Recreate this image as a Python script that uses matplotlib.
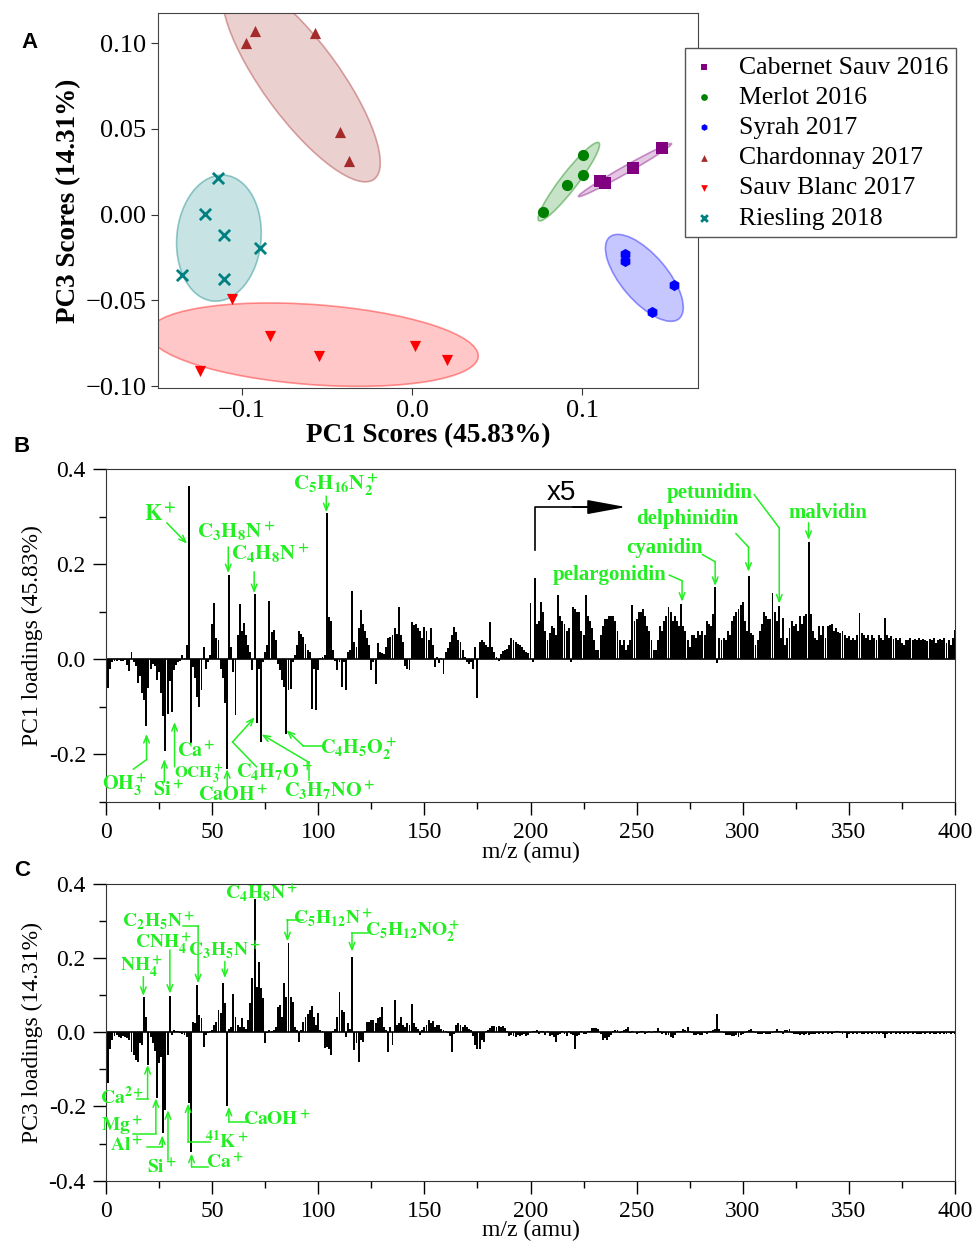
import numpy as np
import matplotlib
matplotlib.use("Agg")
import matplotlib.pyplot as plt
from matplotlib.patches import Ellipse
from matplotlib.colors import to_rgba
from matplotlib.ticker import FuncFormatter, MultipleLocator

plt.rcParams['font.family'] = ['Liberation Serif', 'DejaVu Serif']
plt.rcParams['mathtext.fontset'] = 'stix'

GREEN = '#22ee22'

# ---------------- panel A: PCA scores ----------------
wines = ["Cabernet Sauv 2016", "Merlot 2016", "Syrah 2017",
         "Chardonnay 2017", "Sauv Blanc 2017", "Riesling 2018"]
wine_colors = ['purple', 'green', 'blue', 'brown', 'red', 'teal']
wine_markers = ['s', 'o', 'h', '^', 'v', 'x']

pc1_scores = [
    [0.1108, 0.1137, 0.1297, 0.1468],
    [0.0771, 0.0911, 0.1003, 0.1003],
    [0.1255, 0.1255, 0.1542, 0.1413],
    [-0.0921, -0.0974, -0.0571, -0.0421, -0.0368],
    [-0.1061, -0.0837, -0.0547, 0.0018, 0.0205, -0.1250],
    [-0.1139, -0.1218, -0.1103, -0.0897, -0.1355, -0.1103],
]
pc3_scores = [
    [0.0196, 0.0184, 0.0271, 0.0388],
    [0.0016, 0.0171, 0.0233, 0.0349],
    [-0.0227, -0.0269, -0.0411, -0.0566],
    [0.1068, 0.0998, 0.1056, 0.0481, 0.0312],
    [-0.0492, -0.0707, -0.0824, -0.0766, -0.0847, -0.0909],
    [0.0213, 0.0004, -0.0118, -0.0194, -0.0349, -0.0376],
]

# ---------------- panel B: PC1 loadings (m/z 1..400, >202 shown x5) ----------------
pc1_loadings = [
    -0.06, -0.02, -0.005, -0.003, -0.003, -0.002, -0.003, -0.004, -0.002, -0.012,
    -0.025, 0.015, -0.005, -0.015, -0.05, -0.035, -0.07, -0.085, -0.14, -0.06,
    -0.02, -0.01, -0.015, -0.044, -0.027, -0.07, -0.12, -0.192, -0.115, -0.045,
    -0.111, -0.023, -0.013, -0.006, -0.003, 0.008, 0.003, 0.03, 0.365, -0.177,
    -0.016, -0.04, -0.08, -0.1, -0.065, 0.026, -0.02, -0.006, 0.01, 0.075,
    0.118, 0.044, 0.04, -0.02, -0.04, -0.092, -0.231, 0.177, 0.026, -0.027,
    -0.118, 0.05, 0.117, 0.06, 0.077, 0.05, 0.03, 0.015, -0.023, 0.137,
    -0.134, -0.02, -0.174, -0.006, 0.015, 0.03, 0.123, 0.058, 0.061, 0.04,
    -0.01, -0.023, -0.044, -0.058, -0.157, -0.065, -0.062, -0.005, 0.01, 0.03,
    0.06, 0.054, 0.047, 0.033, 0.019, 0.015, -0.104, -0.02, -0.107, -0.023,
    0.003, 0.005, 0.01, 0.308, 0.089, 0.08, 0.02, -0.003, -0.023, -0.005,
    -0.058, -0.005, -0.065, 0.015, 0.02, 0.144, 0.037, 0.026, 0.065, 0.103,
    0.075, 0.06, 0.045, 0.03, -0.023, -0.005, -0.051, 0.035, 0.015, 0.013,
    0.012, 0.026, 0.044, 0.047, 0.05, 0.065, 0.054, 0.11, 0.05, 0.036,
    -0.015, -0.02, -0.023, 0.079, 0.072, 0.075, 0.065, 0.06, 0.045, 0.067,
    0.06, 0.04, 0.065, 0.03, -0.016, 0.005, -0.008, 0.003, -0.032, 0.015,
    0.023, 0.037, 0.05, 0.068, 0.058, 0.04, 0.036, 0.02, 0.005, -0.006,
    -0.01, -0.006, -0.02, 0.026, -0.081, 0.037, 0.04, 0.037, 0.03, 0.026,
    0.079, 0.026, 0.015, 0.005, -0.003, 0.012, 0.018, 0.02, 0.022, 0.03,
    0.045, 0.04, 0.036, 0.033, 0.03, 0.025, 0.02, 0.015, 0.013, 0.118,
    -0.005, 0.17, 0.075, 0.08, 0.12, 0.1, 0.06, 0.04, 0.055, 0.07,
    0.065, 0.05, 0.135, 0.09, 0.08, 0.075, 0.06, 0.065, -0.005, 0.11,
    0.105, 0.1, 0.1, 0.06, 0.05, 0.135, 0.09, 0.08, 0.065, 0.04,
    0.02, 0.02, 0.05, 0.07, 0.085, 0.085, 0.09, 0.09, 0.09, 0.08,
    0.06, 0.04, 0.03, 0.04, 0.02, 0.03, 0.04, 0.115, 0.08, 0.085,
    0.1, 0.1, 0.105, 0.09, 0.07, 0.06, 0.04, 0.02, 0.02, 0.04,
    0.07, 0.06, 0.08, 0.09, 0.11, 0.1, 0.08, 0.09, 0.08, 0.07,
    0.116, 0.07, 0.06, 0.04, 0.025, 0.05, 0.05, 0.045, 0.06, 0.05,
    0.06, 0.05, 0.08, 0.075, 0.07, 0.095, 0.151, -0.008, 0.044, 0.04,
    0.045, 0.04, 0.06, 0.05, 0.08, 0.09, 0.1, 0.105, 0.115, 0.12,
    0.08, 0.06, 0.175, 0.055, 0.05, 0.03, 0.04, 0.06, 0.075, 0.1,
    0.09, 0.085, 0.085, 0.139, 0.1, 0.08, 0.112, 0.045, 0.086, 0.03,
    0.045, 0.065, 0.08, 0.07, 0.075, 0.06, 0.09, 0.075, 0.09, 0.095,
    0.246, 0.095, 0.06, 0.045, 0.04, 0.07, 0.05, 0.07, 0.045, 0.07,
    0.072, 0.075, 0.06, 0.065, 0.058, 0.055, 0.06, 0.05, 0.045, 0.048,
    0.04, 0.045, 0.04, 0.05, 0.097, 0.055, 0.05, 0.045, 0.05, 0.04,
    0.05, 0.045, 0.04, 0.05, 0.045, 0.04, 0.086, 0.05, 0.045, 0.048,
    0.042, 0.045, 0.04, 0.045, 0.035, 0.03, 0.04, 0.04, 0.045, 0.04,
    0.042, 0.04, 0.045, 0.04, 0.042, 0.04, 0.038, 0.042, 0.04, 0.045,
    0.035, 0.04, 0.042, 0.04, 0.045, 0.035, 0.04, 0.03, 0.045, 0.061,
]

# ---------------- panel C: PC3 loadings (m/z 1..400) ----------------
pc3_loadings = [
    -0.137, -0.045, -0.02, -0.01, -0.008, -0.012, -0.016, -0.01, -0.012, -0.015,
    -0.02, -0.052, -0.061, -0.075, -0.079, -0.03, -0.034, 0.094, 0.042, -0.088,
    -0.012, -0.03, -0.05, -0.178, -0.084, -0.066, -0.272, -0.21, -0.06, 0.098,
    -0.007, 0.006, 0.004, 0.003, -0.003, -0.005, -0.008, -0.012, -0.191, -0.324,
    0.029, 0.024, 0.128, 0.047, 0.038, -0.039, -0.007, -0.003, 0.003, 0.006,
    0.02, 0.029, 0.06, 0.051, 0.132, 0.078, -0.2, 0.01, 0.015, 0.102,
    0.042, 0.02, 0.015, 0.038, 0.015, 0.008, 0.033, 0.078, 0.146, 0.359,
    0.123, 0.19, 0.119, 0.092, -0.03, -0.003, 0.005, 0.004, 0.006, 0.015,
    0.069, 0.074, 0.042, 0.132, 0.096, 0.24, 0.096, 0.083, 0.015, 0.006,
    -0.027, 0.005, 0.029, 0.042, 0.05, 0.06, 0.071, 0.042, 0.02, 0.051,
    0.006, 0.003, -0.043, -0.039, -0.046, -0.061, 0.004, 0.01, 0.042, 0.108,
    0.06, 0.056, -0.012, 0.024, 0.01, 0.202, -0.048, -0.03, -0.079, -0.021,
    -0.025, 0.003, 0.029, 0.029, 0.033, 0.033, 0.024, 0.038, 0.042, 0.067,
    0.015, 0.006, -0.052, 0.015, -0.034, 0.087, 0.02, 0.024, 0.042, 0.02,
    0.015, 0.024, 0.02, 0.076, 0.024, 0.015, 0.01, -0.007, 0.006, 0.015,
    0.02, 0.033, 0.024, 0.031, 0.015, 0.02, 0.02, 0.01, 0.006, 0.003,
    -0.003, -0.01, -0.052, -0.004, 0.02, 0.025, 0.02, 0.015, 0.02, 0.015,
    0.01, 0.005, -0.01, -0.034, -0.045, -0.045, -0.02, -0.025, 0.003, 0.006,
    0.011, 0.016, 0.016, 0.013, 0.016, 0.014, 0.016, 0.012, 0.003, -0.01,
    -0.008, -0.01, -0.012, -0.006, -0.01, -0.008, -0.004, -0.01, -0.006, -0.003,
    0.004, 0.003, 0.005, -0.004, 0.004, 0.003, -0.006, 0.004, -0.01, -0.008,
    -0.012, -0.025, -0.008, -0.004, 0.003, -0.005, -0.01, 0.003, -0.004, -0.006,
    -0.046, -0.01, -0.008, 0.004, -0.005, -0.004, 0.003, 0.004, 0.012, 0.012,
    0.012, 0.01, -0.004, -0.02, -0.016, -0.02, -0.012, -0.008, 0.004, 0.006,
    0.005, -0.003, 0.004, 0.006, 0.01, 0.015, -0.003, 0.003, 0.002, -0.004,
    -0.003, 0.003, 0.004, -0.004, -0.003, 0.003, -0.003, 0.004, 0.003, 0.012,
    0.003, -0.004, -0.003, -0.006, -0.008, -0.012, -0.015, -0.006, 0.003, 0.004,
    0.004, 0.008, 0.006, 0.015, 0.004, -0.003, -0.006, -0.008, -0.004, -0.008,
    -0.006, -0.003, -0.004, 0.003, 0.004, 0.005, 0.01, 0.048, 0.01, 0.004,
    -0.003, -0.006, -0.008, -0.006, -0.01, -0.01, -0.008, -0.012, -0.006, -0.004,
    -0.003, 0.004, 0.005, 0.008, 0.004, -0.003, -0.004, -0.005, -0.004, -0.003,
    -0.004, -0.005, -0.004, -0.003, 0.004, 0.01, 0.004, 0.003, -0.004, 0.005,
    0.006, 0.01, -0.003, -0.004, -0.005, -0.004, -0.006, -0.005, -0.006, -0.005,
    -0.006, -0.004, -0.005, -0.004, -0.003, -0.004, -0.003, -0.004, -0.003, -0.004,
    -0.003, -0.004, -0.003, 0.003, 0.004, -0.003, -0.004, -0.003, -0.015, -0.004,
    -0.003, -0.004, -0.003, -0.004, -0.003, -0.004, -0.005, -0.003, -0.004, -0.003,
    -0.004, -0.003, -0.005, -0.004, -0.003, -0.004, -0.015, -0.005, -0.003, -0.004,
    -0.003, -0.004, -0.003, -0.004, -0.003, -0.004, -0.003, -0.004, -0.003, -0.004,
    -0.003, -0.004, -0.005, -0.004, -0.003, -0.004, -0.003, -0.004, -0.003, -0.005,
    -0.004, -0.003, -0.004, -0.003, -0.004, -0.005, -0.003, -0.004, -0.003, -0.004,
]
mz = np.arange(1, 401)

# labels: (text, text position, callout path, size)
labels_b = [
    (r'$\mathbf{K^+}$', (25.4, 0.304), [(28.6, 0.287), (38.2, 0.243)], 16),
    (r'$\mathbf{C_3H_8N^+}$', (61.5, 0.269), [(57.6, 0.236), (57.6, 0.181)], 15),
    (r'$\mathbf{C_4H_8N^+}$', (77.2, 0.223), [(69.8, 0.184), (69.8, 0.139)], 15),
    (r'$\mathbf{C_5H_{16}N_2^+}$', (108.5, 0.367), [(103.8, 0.343), (103.8, 0.309)], 15),
    (r'$\mathbf{OH_3^+}$', (8.9, -0.263), [(12.9, -0.231), (19.1, -0.211), (19.1, -0.157)], 14.5),
    (r'$\mathbf{Si^+}$', (29.6, -0.277), [(27.5, -0.258), (27.5, -0.21)], 14.5),
    (r'$\mathbf{OCH_3^+}$', (44.0, -0.240), [(32.3, -0.226), (32.3, -0.132)], 12),
    (r'$\mathbf{Ca^+}$', (42.6, -0.194), [], 14.5),
    (r'$\mathbf{CaOH^+}$', (59.9, -0.286), [(57.1, -0.273), (57.1, -0.231)], 14.5),
    (r'$\mathbf{C_4H_7O^+}$', (79.2, -0.236), [(70.9, -0.226), (59.6, -0.174), (70.1, -0.122)], 14.5),
    (r'$\mathbf{C_3H_7NO^+}$', (105.4, -0.275), [(95.7, -0.254), (95.7, -0.217), (73.3, -0.158)], 14.5),
    (r'$\mathbf{C_4H_5O_2^+}$', (118.7, -0.189), [(101.9, -0.182), (92.9, -0.182), (85.0, -0.149)], 14.5),
    ('pelargonidin', (237.2, 0.177), [(265.4, 0.177), (271.4, 0.165), (271.4, 0.121)], 15),
    ('cyanidin', (263.0, 0.234), [(281.0, 0.22), (287.0, 0.205), (287.0, 0.154)], 15),
    ('delphinidin', (274.0, 0.294), [(296.8, 0.264), (302.7, 0.236), (302.7, 0.184)], 15),
    ('petunidin', (284.2, 0.35), [(305.4, 0.346), (317.2, 0.276), (317.2, 0.117)], 15),
    ('malvidin', (340.0, 0.308), [(331.0, 0.287), (331.0, 0.251)], 15),
]
labels_c = [
    (r'$\mathbf{NH_4^+}$', (16.8, 0.177), [(17.6, 0.150), (17.6, 0.098)], 14),
    (r'$\mathbf{CNH_4^+}$', (27.0, 0.239), [(30.1, 0.222), (30.1, 0.104)], 14),
    (r'$\mathbf{C_2H_5N^+}$', (24.6, 0.299), [(36.4, 0.287), (43.4, 0.287), (43.4, 0.132)], 14),
    (r'$\mathbf{C_3H_5N^+}$', (56.0, 0.222), [(56.0, 0.191), (56.0, 0.146)], 14),
    (r'$\mathbf{C_4H_8N^+}$', (73.3, 0.376), [], 14),
    (r'$\mathbf{C_5H_{12}N^+}$', (107.0, 0.308), [(92.8, 0.303), (85.5, 0.303), (85.5, 0.245)], 14),
    (r'$\mathbf{C_5H_{12}NO_2^+}$', (144.6, 0.272), [(123.4, 0.269), (115.9, 0.269), (115.9, 0.218)], 14),
    (r'$\mathbf{Ca^{2+}}$', (7.6, -0.174), [(14.4, -0.181), (19.6, -0.181), (19.6, -0.088)], 14),
    (r'$\mathbf{Mg^+}$', (7.6, -0.255), [(12.8, -0.273), (23.5, -0.273), (23.5, -0.178)], 14),
    (r'$\mathbf{Al^+}$', (9.7, -0.309), [(19.2, -0.309), (26.5, -0.309), (26.5, -0.278)], 14),
    (r'$\mathbf{Si^+}$', (26.2, -0.368), [(29.2, -0.345), (29.2, -0.21)], 14),
    (r'$\mathbf{^{41}K^+}$', (56.8, -0.293), [(48.9, -0.296), (38.7, -0.296), (38.7, -0.192)], 14),
    (r'$\mathbf{Ca^+}$', (56.0, -0.354), [(48.1, -0.363), (40.3, -0.363), (40.3, -0.327)], 14),
    (r'$\mathbf{CaOH^+}$', (80.3, -0.237), [(66.2, -0.242), (57.9, -0.242), (57.9, -0.201)], 14),
]


def conf_ellipse(ax, x, y, color, n_std=1.65):
    cov = np.cov(x, y)
    vals, vecs = np.linalg.eigh(cov)
    order = vals.argsort()[::-1]
    vals, vecs = vals[order], vecs[:, order]
    angle = np.degrees(np.arctan2(vecs[1, 0], vecs[0, 0]))
    w, h = 2 * n_std * np.sqrt(vals)
    ax.add_patch(Ellipse((np.mean(x), np.mean(y)), w, h, angle=angle,
                         facecolor=to_rgba(color, 0.22), edgecolor=to_rgba(color, 0.4),
                         lw=1.2, zorder=1))


def callout(ax, text, pos, pts, size):
    ax.text(pos[0], pos[1], text, color=GREEN, fontsize=size, fontweight='bold',
            ha='center', va='center', zorder=5)
    if len(pts) > 2:
        xs, ys = zip(*pts[:-1])
        ax.plot(xs, ys, color=GREEN, lw=1.1, zorder=5)
    if len(pts) >= 2:
        ax.annotate('', xy=pts[-1], xytext=pts[-2],
                    arrowprops=dict(arrowstyle='->,head_length=0.5,head_width=0.2',
                                    color=GREEN, lw=1.1, shrinkA=0, shrinkB=0), zorder=5)


def style_loadings(ax, ylim, ylabel):
    ax.set_xlim(0, 400)
    ax.set_ylim(*ylim)
    ax.xaxis.set_major_locator(MultipleLocator(50))
    ax.xaxis.set_minor_locator(MultipleLocator(25))
    ax.yaxis.set_major_locator(MultipleLocator(0.2))
    ax.yaxis.set_minor_locator(MultipleLocator(0.1))
    ax.yaxis.set_major_formatter(FuncFormatter(lambda v, p: "%.1f" % (round(v, 2) + 0.0)))
    ax.tick_params(which='both', direction='out', top=False, right=False, labelsize=17, pad=5)
    ax.tick_params(which='major', length=9.5, width=1)
    ax.tick_params(which='minor', length=5, width=1)
    for s in ax.spines.values():
        s.set_color('#333333')
    ax.axhline(0, color='k', lw=1.2, zorder=2)
    ax.set_xlabel('m/z (amu)', fontsize=17, labelpad=-1)
    ax.set_ylabel(ylabel, fontsize=17, labelpad=4)


fig = plt.figure(figsize=(9.76, 12.48), dpi=100)

# panel A
axA = fig.add_axes([0.1619, 0.6891, 0.5533, 0.3005])
for i, name in enumerate(wines):
    conf_ellipse(axA, pc1_scores[i], pc3_scores[i], wine_colors[i])
    lw = 2 if wine_markers[i] == 'x' else 0
    axA.scatter(pc1_scores[i], pc3_scores[i], c=wine_colors[i], marker=wine_markers[i],
                s=65, linewidths=lw, label=name, zorder=3)
axA.set_xlim(-0.1494, 0.1682)
axA.set_ylim(-0.101, 0.1175)
axA.set_xticks([-0.1, 0.0, 0.1])
axA.set_yticks([-0.10, -0.05, 0.0, 0.05, 0.10])
axA.xaxis.set_major_formatter(FuncFormatter(lambda v, p: ("%.1f" % (round(v, 2) + 0.0)).replace('-', '\u2212')))
axA.yaxis.set_major_formatter(FuncFormatter(lambda v, p: ("%.2f" % (round(v, 3) + 0.0)).replace('-', '\u2212')))
axA.tick_params(labelsize=19, length=5, color='#333333')
for s in axA.spines.values():
    s.set_color('#444444')
axA.set_xlabel('PC1 Scores (45.83%)', fontsize=19.5, fontweight='bold', labelpad=1)
axA.set_ylabel('PC3 Scores (14.31%)', fontsize=19.5, fontweight='bold', labelpad=3)
axA.legend(loc='upper left', bbox_to_anchor=(0.7018, 0.9615), bbox_transform=fig.transFigure,
           fontsize=18.5, frameon=True, fancybox=False, framealpha=1, edgecolor='#555555',
           markerscale=0.6, handlelength=0.9, handletextpad=0.9, borderpad=0.3,
           labelspacing=0.28, borderaxespad=0)

# panel B
axB = fig.add_axes([0.1086, 0.3574, 0.8699, 0.2668])
axB.bar(mz, pc1_loadings, width=0.9, color='k', linewidth=0, zorder=3)
style_loadings(axB, (-0.3, 0.4), 'PC1 loadings (45.83%)')
for text, pos, pts, size in labels_b:
    callout(axB, text, pos, pts, size)
axB.text(214.4, 0.35, 'x5', fontsize=20, family='Liberation Sans', ha='center', va='center')
axB.plot([202.2, 202.2, 230.0], [0.23, 0.32, 0.32], color='k', lw=1.2)
axB.annotate('', xy=(245.0, 0.32), xytext=(220.0, 0.32),
             arrowprops=dict(arrowstyle='-|>,head_length=1.2,head_width=0.22', mutation_scale=20,
                             color='k', lw=1.2, shrinkA=0, shrinkB=0))

# panel C
axC = fig.add_axes([0.1086, 0.054, 0.8699, 0.2377])
axC.bar(mz, pc3_loadings, width=0.9, color='k', linewidth=0, zorder=3)
style_loadings(axC, (-0.4, 0.4), 'PC3 loadings (14.31%)')
for text, pos, pts, size in labels_c:
    callout(axC, text, pos, pts, size)

for letter, x, y in [('A', 30, 42), ('B', 22, 447), ('C', 22, 870)]:
    fig.text(x / 976, 1 - y / 1248, letter, family='Liberation Sans', fontweight='bold',
             fontsize=16, ha='center', va='center')

fig.savefig('out.png', dpi=100)
